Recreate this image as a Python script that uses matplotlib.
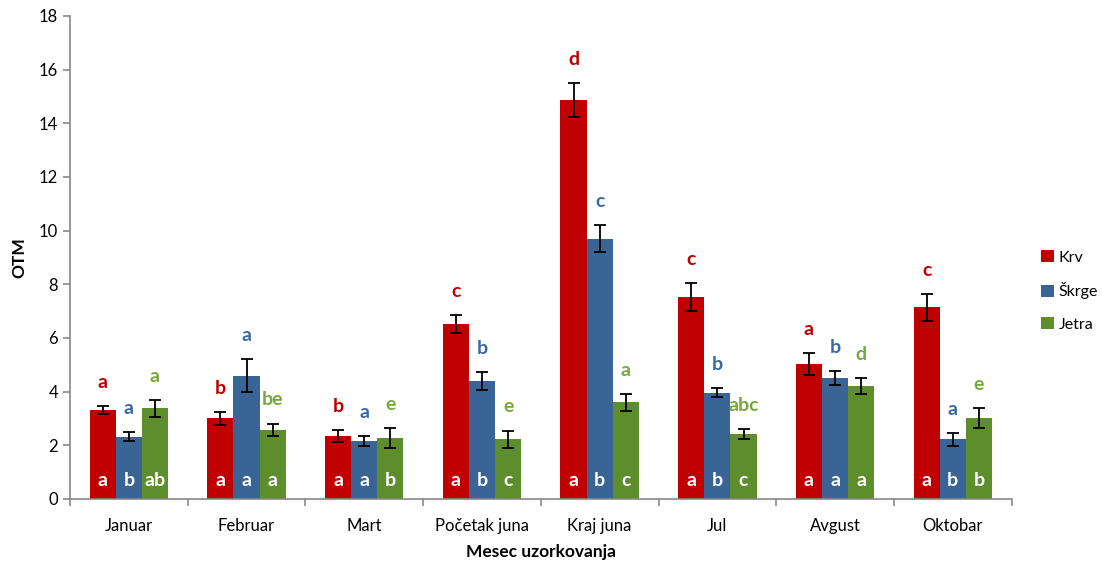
import numpy as np
import matplotlib
matplotlib.use("Agg")
import matplotlib.pyplot as plt

plt.rcParams['font.family'] = ['Lato', 'DejaVu Sans']

meseci = ["Januar", "Februar", "Mart", "Početak juna", "Kraj juna", "Jul", "Avgust", "Oktobar"]
serije = ["Krv", "Škrge", "Jetra"]

krv = [3.32, 3.00, 2.35, 6.53, 14.87, 7.52, 5.03, 7.14]
skrge = [2.32, 4.60, 2.16, 4.40, 9.70, 3.96, 4.50, 2.22]
jetra = [3.38, 2.57, 2.26, 2.22, 3.60, 2.42, 4.22, 3.01]

krv_err = [0.15, 0.25, 0.22, 0.34, 0.64, 0.52, 0.40, 0.51]
skrge_err = [0.17, 0.61, 0.19, 0.34, 0.50, 0.17, 0.27, 0.25]
jetra_err = [0.32, 0.24, 0.37, 0.33, 0.32, 0.17, 0.30, 0.37]

# slova iznad stubica (razlike izmedju meseci)
krv_gore = ["a", "b", "b", "c", "d", "c", "a", "c"]
skrge_gore = ["a", "a", "a", "b", "c", "b", "b", "a"]
jetra_gore = ["a", "be", "e", "e", "a", "abc", "d", "e"]

# slova u stubicima (razlike izmedju tkiva)
krv_dole = ["a", "a", "a", "a", "a", "a", "a", "a"]
skrge_dole = ["b", "a", "a", "b", "b", "b", "a", "b"]
jetra_dole = ["ab", "a", "b", "c", "c", "c", "a", "b"]

boje = ["#C00000", "#386496", "#5E8E2C"]
boje_teksta = ["#C00000", "#3A6AA6", "#78A83C"]

vrednosti = [krv, skrge, jetra]
greske = [krv_err, skrge_err, jetra_err]
gore = [krv_gore, skrge_gore, jetra_gore]
dole = [krv_dole, skrge_dole, jetra_dole]

fig = plt.figure(figsize=(11.02, 5.63), dpi=100)
ax = fig.add_axes([0.0635, 0.1137, 0.8545, 0.858])

x = np.arange(len(meseci))
w = 1 / 4.5

for i in range(3):
    pos = x + (i - 1) * w
    ax.bar(pos, vrednosti[i], w, color=boje[i], label=serije[i], zorder=2)
    ax.errorbar(pos, vrednosti[i], yerr=greske[i], fmt='none', ecolor='black',
                elinewidth=1.3, capsize=4, capthick=1.3, zorder=3)
    for j in range(len(meseci)):
        top = vrednosti[i][j] + greske[i][j]
        ax.annotate(gore[i][j], (pos[j], top), xytext=(0, 17), textcoords='offset points',
                    ha='center', va='center', color=boje_teksta[i], fontsize=14, fontweight='bold')
        ax.text(pos[j], 0.7, dole[i][j], ha='center', va='center', color='white',
                fontsize=14, fontweight='bold', zorder=4)

ax.set_xlim(-0.5, len(meseci) - 0.5)
ax.set_ylim(0, 18)
ax.set_yticks(np.arange(0, 19, 2))
ax.set_xticks(x)
ax.set_xticklabels(meseci, fontsize=12)
ax.set_xticks(np.arange(-0.5, len(meseci), 1), minor=True)
ax.tick_params(axis='x', which='major', length=0, pad=14)
ax.tick_params(axis='x', which='minor', length=5, color='#888888', width=1.2)
ax.tick_params(axis='y', length=5, color='#888888', width=1.2, labelsize=12)

for s in ['top', 'right']:
    ax.spines[s].set_visible(False)
for s in ['left', 'bottom']:
    ax.spines[s].set_color('#888888')
    ax.spines[s].set_linewidth(1.2)

ax.set_ylabel("OTM", fontsize=12.5, fontweight='bold', labelpad=8)
ax.set_xlabel("Mesec uzorkovanja", fontsize=12.5, fontweight='bold', labelpad=7)

ax.legend(loc='upper left', bbox_to_anchor=(1.016, 0.545), frameon=False, fontsize=11.5,
          handlelength=0.8, handleheight=0.8, handletextpad=0.3, labelspacing=1.1)

fig.savefig("out.png", dpi=100)
